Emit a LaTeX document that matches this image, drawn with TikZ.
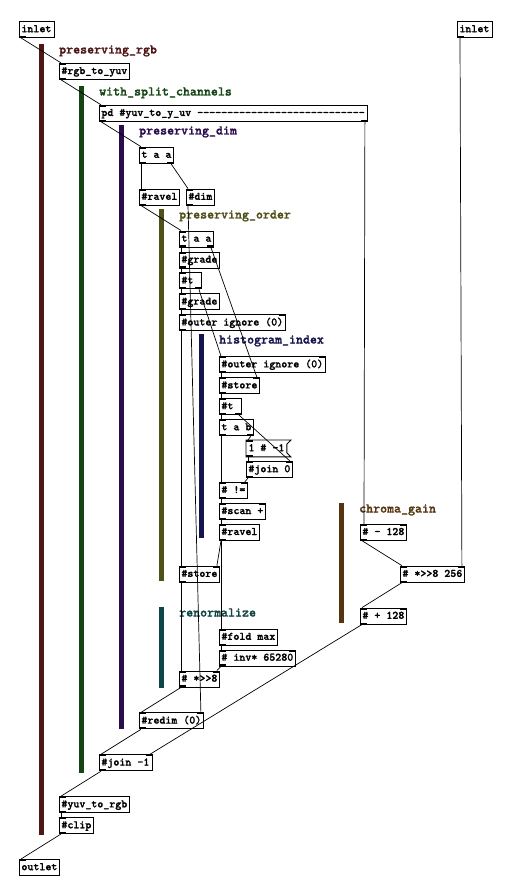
\documentclass[tikz,border=0pt]{standalone}
\usepackage{fontspec}
\newfontfamily\pdtt{lmmonolt10-bold.otf}[FakeBold=1.3]
\usetikzlibrary{calc}
\definecolor{crgb}{HTML}{4F1616}
\definecolor{csplit}{HTML}{154515}
\definecolor{cdim}{HTML}{2B0D4D}
\definecolor{corder}{HTML}{50501A}
\definecolor{chist}{HTML}{14144F}
\definecolor{cchroma}{HTML}{553510}
\definecolor{crenorm}{HTML}{104545}
\newcommand\pdobj[5]{\pgfmathsetmacro\tw{#4-4}\node[obj] (#1) at (#2,#3) {\makebox[\tw pt][l]{#5}};}
\newcommand\pdbar[5]{\fill[#1] (#2,#3) rectangle (#2+5,#4); \node[lbl,text=#1] at (#2+20,#3+9.5) {#5};}
\begin{document}
\begin{tikzpicture}[x=1pt,y=-1pt,
  obj/.style={draw=black, line width=0.9pt, fill=white, anchor=north west,
    inner xsep=2pt, inner ysep=0pt, minimum height=16pt,
    font=\pdtt\fontsize{11.4}{11.4}\selectfont,
    text height=7.5pt, text depth=2pt},
  msgtxt/.style={obj, draw=none},
  conn/.style={draw=black, line width=0.7pt},
  lbl/.style={anchor=base west, inner sep=0pt, font=\pdtt\fontsize{13.3}{13.3}\selectfont},
  iomark/.style={fill=black}]
\useasboundingbox (0,0) rectangle (512,896);
\fill[white] (0,0) rectangle (512,896);
% bars and labels
\pdbar{crgb}{39}{44}{835}{preserving\_rgb}
\pdbar{csplit}{79}{86}{773}{with\_split\_channels}
\pdbar{cdim}{119}{125}{729}{preserving\_dim}
\pdbar{corder}{159}{209}{581}{preserving\_order}
\pdbar{chist}{199}{334}{538}{histogram\_index}
\pdbar{cchroma}{339}{503}{623}{chroma\_gain}
\pdbar{crenorm}{159}{607}{688}{renormalize}
% objects
\pdobj{in1}{19}{21}{35}{inlet}
\pdobj{in2}{457}{21}{35}{inlet}
\pdobj{rgb}{59}{62.9}{70}{\#rgb\_to\_yuv}
\pdobj{pd}{99}{104.8}{268}{pd \#yuv\_to\_y\_uv ----------------------------}
\pdobj{taa}{139}{146.7}{34}{t a a}
\pdobj{ravA}{139}{188.6}{40}{\#ravel}
\pdobj{dim}{186}{188.6}{28}{\#dim}
\pdobj{taaB}{179}{230.5}{34}{t a a}
\pdobj{grA}{179}{251.5}{40}{\#grade}
\pdobj{tA}{179}{272.4}{22}{\#t}
\pdobj{grB}{179}{293.4}{40}{\#grade}
\pdobj{outA}{179}{314.3}{106}{\#outer ignore (0)}
\pdobj{outB}{219}{356.2}{106}{\#outer ignore (0)}
\pdobj{stA}{219}{377.2}{40}{\#store}
\pdobj{tB}{219}{398.1}{22}{\#t}
\pdobj{tab}{219}{419.1}{34}{t a b}
\pdobj{joinA}{246}{461}{46}{\#join 0}
\pdobj{neq}{219}{481.9}{28}{\# !=}
\pdobj{scan}{219}{502.9}{46}{\#scan +}
\pdobj{ravB}{219}{523.8}{40}{\#ravel}
\pdobj{mA}{360}{523.8}{46}{\# - 128}
\pdobj{stB}{179}{565.7}{40}{\#store}
\pdobj{mul}{400}{565.7}{64}{\# *>>8 256}
\pdobj{pA}{360}{607.6}{46}{\# + 128}
\pdobj{fold}{219}{628.6}{58}{\#fold max}
\pdobj{inv}{219}{649.5}{76}{\# inv* 65280}
\pdobj{mulB}{179}{670.5}{40}{\# *>>8}
\pdobj{redim}{139}{712.4}{64}{\#redim (0)}
\pdobj{joinB}{99}{754.3}{53}{\#join -1}
\pdobj{yuv}{59}{796.2}{70}{\#yuv\_to\_rgb}
\pdobj{clip}{59}{817.1}{34}{\#clip}
\pdobj{outl}{19}{859}{40}{outlet}
% message box
\node[msgtxt] (msg) at (246,440) {\makebox[36pt][l]{1 \# -1}};
\draw[line width=0.9pt] (msg.north west) -- ($(msg.north east)+(4,0)$) -- ($(msg.north east)+(0,4)$)
  -- ($(msg.south east)+(0,-4)$) -- ($(msg.south east)+(4,0)$) -- (msg.south west) -- cycle;
% connections
\newcommand\oL[1]{($(#1.south west)+(2,0)$)}
\newcommand\oR[1]{($(#1.south east)+(-3,0)$)}
\newcommand\iL[1]{($(#1.north west)+(2,0)$)}
\newcommand\iR[1]{($(#1.north east)+(-3,0)$)}
\draw[conn] \oL{in1} -- \iL{rgb};
\draw[conn] \oL{rgb} -- \iL{pd};
\draw[conn] \oL{pd} -- \iL{taa};
\draw[conn] \oR{pd} -- ($(mA.north west)+(4,0)$);
\draw[conn] ($(in2.south west)+(3,0)$) -- \iR{mul};
\draw[conn] \oL{mA} -- \iL{mul};
\draw[conn] \oL{mul} -- \iL{pA};
\draw[conn] \oL{pA} -- \iR{joinB};
\draw[conn] \oL{taa} -- \iL{ravA};
\draw[conn] \oR{taa} -- \iL{dim};
\draw[conn] \oL{ravA} -- \iL{taaB};
\draw[conn] \oL{dim} -- \iR{redim};
\draw[conn] \oL{taaB} -- \iL{grA};
\draw[conn] \oR{taaB} -- \iR{stA};
\draw[conn] \oL{grA} -- \iL{tA};
\draw[conn] \oL{tA} -- \iL{grB};
\draw[conn] \oR{tA} -- \iL{outB};
\draw[conn] \oL{grB} -- \iL{outA};
\draw[conn] \oL{outA} -- \iL{stB};
\draw[conn] \oL{stB} -- \iL{mulB};
\draw[conn] \oL{outB} -- \iL{stA};
\draw[conn] \oL{stA} -- \iL{tB};
\draw[conn] \oL{tB} -- \iL{tab};
\draw[conn] \oR{tB} -- \iR{joinA};
\draw[conn] \oL{tab} -- \iL{neq};
\draw[conn] \oR{tab} -- \iL{msg};
\draw[conn] \oL{msg} -- \iL{joinA};
\draw[conn] \oL{joinA} -- \iR{neq};
\draw[conn] \oL{neq} -- \iL{scan};
\draw[conn] \oL{scan} -- \iL{ravB};
\draw[conn] \oL{ravB} -- \iR{stB};
\draw[conn] \oL{ravB} -- \iL{fold};
\draw[conn] \oL{fold} -- \iL{inv};
\draw[conn] \oL{inv} -- \iR{mulB};
\draw[conn] \oL{mulB} -- \iL{redim};
\draw[conn] \oL{redim} -- \iL{joinB};
\draw[conn] \oL{joinB} -- \iL{yuv};
\draw[conn] \oL{yuv} -- \iL{clip};
\draw[conn] \oL{clip} -- \iL{outl};
% inlet / outlet marks
\foreach \n in {rgb,pd,taa,ravA,dim,taaB,grA,tA,grB,outA,outB,stA,tB,tab,msg,joinA,neq,scan,ravB,mA,stB,mul,pA,fold,inv,mulB,redim,joinB,yuv,clip,outl}
  \fill[iomark] (\n.north west) rectangle ++(7,2);
\foreach \n in {in1,in2,rgb,pd,taa,ravA,dim,taaB,grA,tA,grB,outA,outB,stA,tB,tab,msg,joinA,neq,scan,ravB,mA,stB,mul,pA,fold,inv,mulB,redim,joinB,yuv,clip}
  \fill[iomark] (\n.south west) rectangle ++(7,-2);
\foreach \n in {outA,outB,stA,joinA,neq,scan,mA,stB,mul,pA,inv,mulB,redim,joinB}
  \fill[iomark] (\n.north east) rectangle ++(-7,2);
\foreach \n in {pd,taa,taaB,tA,tB,tab}
  \fill[iomark] (\n.south east) rectangle ++(-7,-2);
\end{tikzpicture}
\end{document}
